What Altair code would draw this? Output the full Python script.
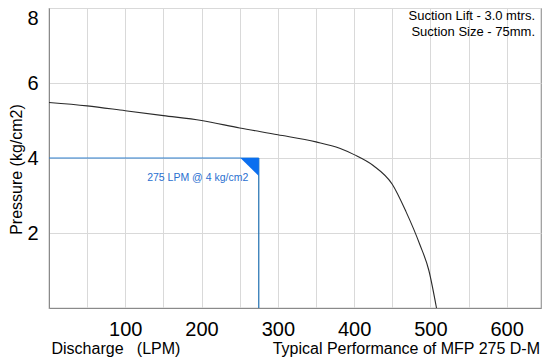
import altair as alt
import pandas as pd

# Pump curve
discharge = [0, 50, 100, 150, 200, 250, 300, 350, 381, 400, 425, 450, 468, 486, 498, 508]
pressure = [5.48, 5.39, 5.26, 5.13, 5.0, 4.8, 4.62, 4.43, 4.26, 4.09, 3.8, 3.3, 2.57, 1.7, 1.0, 0.0]

# Operating point 275 LPM @ 4 kg/cm2
op_flow = 275
op_pressure = 4
marker_flow = [251, 275]
marker_top = [4, 4]
marker_bottom = [4, 3.52]

x_ticks = list(range(0, 651, 50))
y_ticks = list(range(0, 9))

title_x = "Discharge\u00a0\u00a0\u00a0(LPM)"
title_y = "Pressure (kg/cm2)"
caption = "Typical Performance of MFP 275 D-M"
op_label = "275 LPM @ 4 kg/cm2"
notes = ["Suction Lift - 3.0 mtrs.", "Suction Size - 75mm."]

FONT = "Liberation Sans"
W, H = 492, 300

curve_df = pd.DataFrame({"q": discharge, "p": pressure})
hline_df = pd.DataFrame({"q": [0], "q2": [op_flow], "p": [op_pressure]})
vline_df = pd.DataFrame({"q": [op_flow], "p": [op_pressure], "p2": [0]})
marker_df = pd.DataFrame({"q": marker_flow, "p": marker_top, "p2": marker_bottom})
text_df = pd.DataFrame({"label": [op_label]})
cap_df = pd.DataFrame({"label": [caption]})
note_df = pd.DataFrame({"label": ["\n".join(notes)]})

xscale = alt.Scale(domain=[0, 645], nice=False, zero=False)
yscale = alt.Scale(domain=[0, 8], nice=False, zero=False)

curve = alt.Chart(curve_df).mark_line(
    color="#2a2a2a", strokeWidth=1.1, interpolate="monotone"
).encode(
    x=alt.X("q:Q", scale=xscale, axis=alt.Axis(
        values=x_ticks,
        labelExpr="datum.value % 100 == 0 && datum.value > 0 ? datum.label : ''",
        title=title_x, titleAnchor="start", titleAlign="left",
        titleX=2, titleY=45.7, titleBaseline="alphabetic",
        titleFontSize=16, titleFontWeight="normal", titleFont=FONT, titleColor="#000",
        labelFontSize=20, labelFont=FONT, labelColor="#000", labelPadding=11,
        labelFlush=False, ticks=False, domainColor="#8a8a8a",
        gridColor="#d9d9d9", grid=True,
    )),
    y=alt.Y("p:Q", scale=yscale, axis=alt.Axis(
        values=y_ticks,
        labelExpr="datum.value % 2 == 0 && datum.value > 0 ? datum.label : ''",
        title=title_y, titleX=-32.5, titleY=161, titleBaseline="middle",
        titleAngle=270, titleAlign="center",
        titleFontSize=16, titleFontWeight="normal", titleFont=FONT, titleColor="#000",
        labelFontSize=20, labelFont=FONT, labelColor="#000", labelPadding=11,
        labelFlush=True, ticks=False, domainColor="#8a8a8a",
        gridColor="#d9d9d9", grid=True,
    )),
)

hline = alt.Chart(hline_df).mark_rule(color="#2f80d0", strokeWidth=1).encode(
    x="q:Q", x2="q2:Q", y="p:Q"
)
vline = alt.Chart(vline_df).mark_rule(color="#1f6fb0", strokeWidth=1.2).encode(
    x="q:Q", y="p:Q", y2="p2:Q"
)
marker = alt.Chart(marker_df).mark_area(color="#0b6fef", opacity=1).encode(
    x="q:Q", y="p:Q", y2="p2:Q"
)
op_text = alt.Chart(text_df).mark_text(
    font=FONT, fontSize=10.5, color="#2a6fd0", align="right", baseline="middle"
).encode(text="label:N", x=alt.value(199.3), y=alt.value(169.5))

cap_text = alt.Chart(cap_df).mark_text(
    font=FONT, fontSize=16, color="#000", align="right", baseline="alphabetic"
).encode(text="label:N", x=alt.value(491), y=alt.value(345.7))

note_text = alt.Chart(note_df).mark_text(
    font=FONT, fontSize=13, color="#000", align="right", baseline="top",
    lineBreak="\n", lineHeight=16
).encode(text="label:N", x=alt.value(486), y=alt.value(2))

chart = alt.layer(curve, hline, vline, marker, op_text, cap_text, note_text).properties(
    width=W, height=H,
    padding={"left": 41, "top": 0, "right": 1, "bottom": 55},
    autosize=alt.AutoSizeParams(type="none"),
).configure_view(stroke="#9a9a9a", strokeWidth=1.2)

chart.save("out.html", embed_options={"renderer": "svg", "actions": False})
